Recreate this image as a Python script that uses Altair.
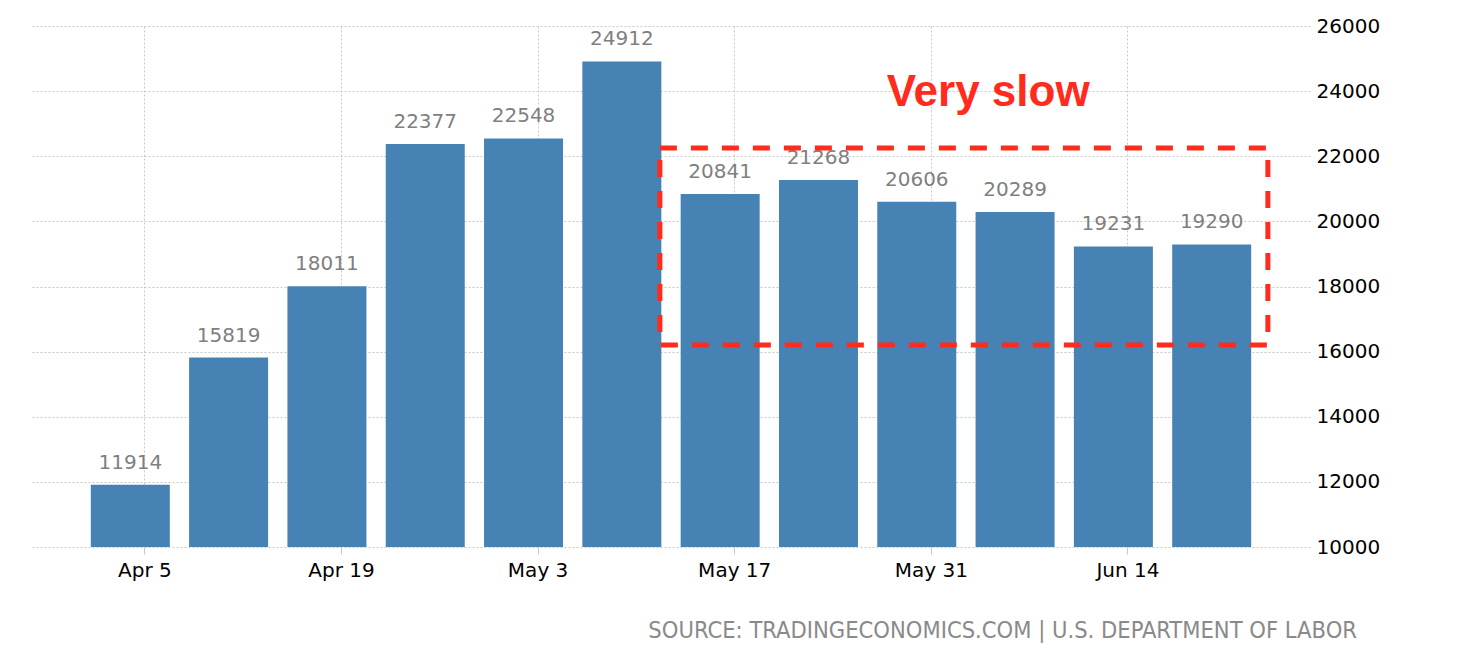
import altair as alt
import pandas as pd

weeks = ["2020-04-04", "2020-04-11", "2020-04-18", "2020-04-25", "2020-05-02", "2020-05-09",
         "2020-05-16", "2020-05-23", "2020-05-30", "2020-06-06", "2020-06-13", "2020-06-20"]
claims = [11914, 15819, 18011, 22377, 22548, 24912, 20841, 21268, 20606, 20289, 19231, 19290]

tick_dates = [(2020, 4, 5), (2020, 4, 19), (2020, 5, 3), (2020, 5, 17), (2020, 5, 31), (2020, 6, 14)]
y_ticks = [10000, 12000, 14000, 16000, 18000, 20000, 22000, 24000, 26000]

box_x = ["2020-05-11T17:00:00"]
box_x2 = ["2020-06-24T00:00:00"]
box_y = [22250]
box_y2 = [16200]
note_text = ["Very slow"]
note_x = ["2020-06-04T02:00:00"]
note_y = [23950]
source_text = "SOURCE: TRADINGECONOMICS.COM | U.S. DEPARTMENT OF LABOR"

df = pd.DataFrame({"week": [w + "T00:00:00" for w in weeks], "claims": claims})
box_df = pd.DataFrame({"x": box_x, "x2": box_x2, "y": box_y, "y2": box_y2})
note_df = pd.DataFrame({"x": note_x, "y": note_y, "t": note_text})
src_df = pd.DataFrame({"t": [source_text]})

FONT = "DejaVu Sans"

xscale = alt.Scale(domain=[alt.DateTime(year=2020, month=3, date=28),
                           alt.DateTime(year=2020, month=6, date=27)], padding=0)
yscale = alt.Scale(domain=[10000, 26000], nice=False, zero=False)

xaxis = alt.Axis(
    values=[alt.DateTime(year=y, month=m, date=d) for (y, m, d) in tick_dates],
    format="%b %-d", title=None, grid=True, gridColor="#c8c8c8", gridDash=[2, 2],
    domain=False, ticks=True, tickColor="#c8c8c8", tickSize=7,
    labelFont=FONT, labelFontSize=20, labelColor="#000000", labelPadding=6,
)
yaxis = alt.Axis(
    values=y_ticks, orient="right", title=None, grid=True, gridColor="#c8c8c8",
    gridDash=[2, 2], domain=False, ticks=False, labelFont=FONT, labelFontSize=20,
    labelColor="#000000", labelPadding=6, format="d",
)

bars = alt.Chart(df).mark_bar(color="#4682b4", size=79, clip=True).encode(
    x=alt.X("week:T", scale=xscale, axis=xaxis),
    y=alt.Y("claims:Q", scale=yscale, axis=yaxis),
)

labels = alt.Chart(df).mark_text(
    font=FONT, fontSize=20, color="#7f7f7f", baseline="alphabetic", dy=-16
).encode(
    x=alt.X("week:T", scale=xscale),
    y=alt.Y("claims:Q", scale=yscale),
    text=alt.Text("claims:Q", format="d"),
)

box = alt.Chart(box_df).mark_rect(
    fill=None, fillOpacity=0, stroke="#ff2b1c", strokeWidth=5, strokeDash=[17, 14]
).encode(
    x=alt.X("x:T", scale=xscale), x2="x2:T",
    y=alt.Y("y:Q", scale=yscale), y2="y2:Q",
)

note = alt.Chart(note_df).mark_text(
    font="Liberation Sans", fontSize=44, fontWeight="bold", color="#ff2b1c",
    align="center", baseline="middle"
).encode(
    x=alt.X("x:T", scale=xscale),
    y=alt.Y("y:Q", scale=yscale),
    text="t:N",
)

source = alt.Chart(src_df).mark_text(
    font="DejaVu Sans Condensed", fontSize=23.5, color="#8a8a8a",
    align="right", baseline="middle"
).encode(
    x=alt.value(1325), y=alt.value(605), text="t:N",
)

chart = alt.layer(bars, labels, box, note, source).properties(
    width=1278, height=521,
    autosize=alt.AutoSizeParams(type="none"),
    padding={"left": 24, "top": 18, "right": 160, "bottom": 100},
).configure_view(stroke=None)

chart.save("out.html", embed_options={"renderer": "svg", "actions": False})
